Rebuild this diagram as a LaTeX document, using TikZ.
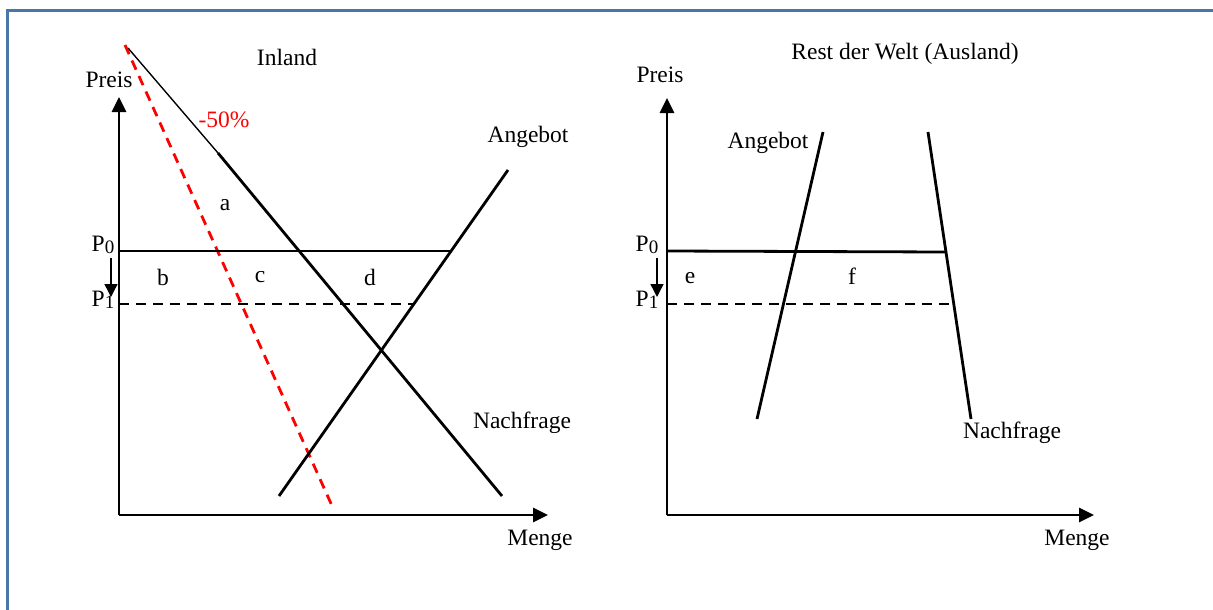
\documentclass[tikz,border=0pt]{standalone}
\usepackage{fontspec}
\setmainfont{Liberation Serif}
\usetikzlibrary{arrows.meta}
\definecolor{framecol}{RGB}{74,118,168}
\definecolor{cutred}{RGB}{255,0,0}
\newcommand\pidx[1]{P\raisebox{-2.5pt}{\fontsize{19}{20}\selectfont #1}}
\begin{document}
\begin{tikzpicture}[x=1pt,y=-1pt,
  lbl/.style={font=\fontsize{23.5}{27}\selectfont, inner sep=0pt},
  curve/.style={line width=2.8pt},
  thincurve/.style={line width=1.4pt},
  axis/.style={line width=2.8pt,-{Triangle[length=15pt,width=14pt]}},
  pdash/.style={line width=2.8pt,dash pattern=on 10pt off 7pt},
  reddash/.style={line width=2.8pt,draw=cutred,dash pattern=on 10pt off 7pt},
  pshift/.style={line width=1.4pt,-{Triangle[length=13pt,width=13pt]}},
  framestyle/.style={line width=3pt,draw=framecol}]
\useasboundingbox (0,0) rectangle (1213,610);
% frame (top and left)
\coordinate (fbl) at (7,610);
\coordinate (ftl) at (7,10.5);
\coordinate (ftr) at (1213,10.5);
\draw[framestyle] (fbl) -- (ftl) -- (ftr);

% ---------------- left panel: Inland ----------------
\coordinate (O1) at (119,515);
\coordinate (Y1) at (119,97);
\coordinate (X1) at (548,515);
\draw[axis] (O1) -- (Y1);
\draw[axis] (O1) -- (X1);
\node[lbl] (preis1) at (109,80) {Preis};
\node[lbl] (menge1) at (540,540) {Menge};
\node[lbl] (inland) at (287,57) {Inland};

% demand (thin then thick)
\coordinate (D1a) at (128,48);
\coordinate (D1b) at (218,153);
\coordinate (D1c) at (502,496);
\draw[thincurve] (D1a) -- (D1b);
\draw[curve] (D1b) -- (D1c);
% rotated demand (-50%)
\coordinate (R1a) at (125,45);
\coordinate (R1b) at (333,508);
\draw[reddash] (R1a) -- (R1b);
\node[lbl,text=cutred] (pct) at (224,120) {-50\%};
% supply
\coordinate (S1a) at (279,496);
\coordinate (S1b) at (508,170);
\draw[curve] (S1a) -- (S1b);
\node[lbl] (ang1) at (528,137) {Angebot};
\node[lbl] (nach1) at (522,423) {Nachfrage};
% price lines
\coordinate (P0a) at (119,251);
\coordinate (P0b) at (452,251);
\coordinate (P1a) at (119,304);
\coordinate (P1b) at (413,304);
\draw[curve] (P0a) -- (P0b);
\draw[pdash] (P1a) -- (P1b);
\node[lbl] (p0l) at (103,245) {\pidx{0}};
\node[lbl] (p1l) at (103,300) {\pidx{1}};
\coordinate (sh1a) at (111,258);
\coordinate (sh1b) at (111,297);
\draw[pshift] (sh1a) -- (sh1b);
% area labels
\node[lbl] (la) at (225,205) {a};
\node[lbl] (lb) at (163,277) {b};
\node[lbl] (lc) at (260,277) {c};
\node[lbl] (ld) at (370,277) {d};

% ---------------- right panel: Ausland ----------------
\coordinate (O2) at (667,515);
\coordinate (Y2) at (667,98);
\coordinate (X2) at (1094,515);
\draw[axis] (O2) -- (Y2);
\draw[axis] (O2) -- (X2);
\node[lbl] (preis2) at (660,75) {Preis};
\node[lbl] (menge2) at (1077,540) {Menge};
\node[lbl] (welt) at (905,54) {Rest der Welt (Ausland)};
% supply
\coordinate (S2a) at (757,419);
\coordinate (S2b) at (823,132);
\draw[curve] (S2a) -- (S2b);
\node[lbl] (ang2) at (768,143) {Angebot};
% demand
\coordinate (D2a) at (928,132);
\coordinate (D2b) at (971,419);
\draw[curve] (D2a) -- (D2b);
\node[lbl] (nach2) at (1012,433) {Nachfrage};
% price lines
\coordinate (Q0a) at (667,251);
\coordinate (Q0b) at (945,252);
\coordinate (Q1a) at (667,304);
\coordinate (Q1b) at (953,304);
\draw[curve] (Q0a) -- (Q0b);
\draw[pdash] (Q1a) -- (Q1b);
\node[lbl] (q0l) at (647,245) {\pidx{0}};
\node[lbl] (q1l) at (647,300) {\pidx{1}};
\coordinate (sh2a) at (657,258);
\coordinate (sh2b) at (657,297);
\draw[pshift] (sh2a) -- (sh2b);
\node[lbl] (le) at (690,278) {e};
\node[lbl] (lf) at (852,276) {f};
\end{tikzpicture}
\end{document}
